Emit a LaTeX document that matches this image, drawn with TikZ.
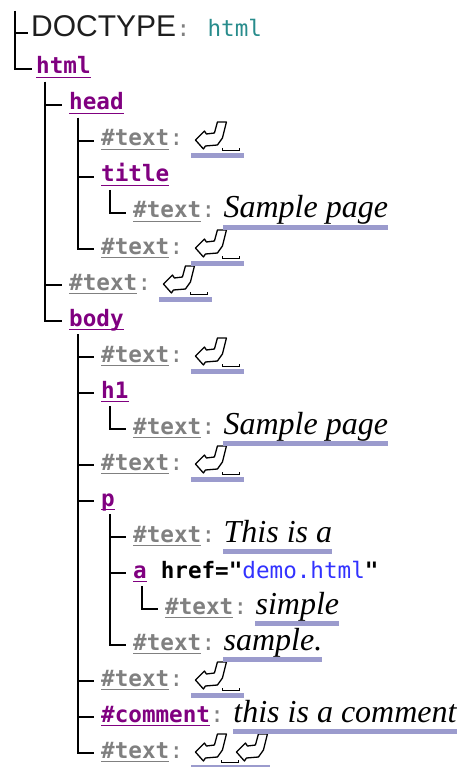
\documentclass[tikz,border=0pt]{standalone}
\usepackage{fontspec}
\usetikzlibrary{positioning}
\newfontfamily\monofont{DejaVu Sans Mono}
\newfontfamily\doctypefont{Liberation Sans}
\newfontfamily\valuefont{Liberation Serif}
\definecolor{tagpurple}{RGB}{128,0,128}
\definecolor{textgray}{RGB}{128,128,128}
\definecolor{barblue}{RGB}{155,155,205}
\definecolor{dtteal}{RGB}{40,140,140}
\definecolor{attrblue}{RGB}{50,50,255}

\tikzset{
  treeline/.style={line width=1.8pt, black},
  tagnode/.style={inner sep=0pt, anchor=base west, text=tagpurple, font=\monofont\bfseries\fontsize{22.6}{27}\selectfont},
  textnode/.style={tagnode, text=textgray},
  colonnode/.style={inner sep=0pt, anchor=base west, text=textgray, font=\monofont\fontsize{22.6}{27}\selectfont},
  valnode/.style={inner sep=0pt, anchor=base west, font=\valuefont\itshape\fontsize{32}{36}\selectfont},
  retnode/.style={inner sep=0pt, anchor=base west},
  pics/retsym/.style={code={
    \draw[line width=1.3pt, fill=white, line join=round] (1,-6) -- (10,-15) -- (12,-12) -- (20,-13) -- (23,-24) -- (32,-24) -- (28,-8) -- (23,-1) -- (11,0) -- (9,3) -- cycle;
  }},
  pics/spacesym/.style={code={
    \draw[line width=0.9pt] (0,2) -- (0,4) -- (17,4) -- (17,2);
  }},
}

\begin{document}
\begin{tikzpicture}[x=1pt, y=-1pt]
\useasboundingbox (0,0) rectangle (461,767);

%%% root
\coordinate (root) at (15,11);
\node [inner sep=0pt, anchor=base west, text={rgb,255:red,30;green,30;blue,30}, font=\doctypefont\fontsize{30}{34}\selectfont] (doctype) at (31,37) {DOCTYPE};
\node [colonnode] (doctype-c) at (doctype.base east) {:};
\node [inner sep=0pt, anchor=base west, text=dtteal, font=\monofont\fontsize{22.6}{27}\selectfont, xshift=31pt] (doctype-v) at (doctype.base east) {html};
\node [tagnode] (html) at (36,74) {html};

%%% head
\node [tagnode] (head) at (69,110) {head};
\node [textnode] (t1) at (101,146) {\#text};
\node [tagnode] (title) at (101,182) {title};
\node [textnode] (t2) at (133,218) {\#text};
\node [textnode] (t3) at (101,254) {\#text};
\node [textnode] (t4) at (69,290) {\#text};

%%% body
\node [tagnode] (body) at (69,326) {body};
\node [textnode] (t5) at (101,362) {\#text};
\node [tagnode] (h1) at (101,398) {h1};
\node [textnode] (t6) at (133,434) {\#text};
\node [textnode] (t7) at (101,470) {\#text};
\node [tagnode] (p) at (101,506) {p};
\node [textnode] (t8) at (133,542) {\#text};
\node [tagnode] (a) at (133,578) {a};
\node [inner sep=0pt, anchor=base west, font=\monofont\fontsize{22.6}{27}\selectfont, xshift=13.6pt] (a-attr) at (a.base east) {\textbf{href="}\textcolor{attrblue}{demo.html}\textbf{"}};
\node [textnode] (t9) at (165,614) {\#text};
\node [textnode] (t10) at (133,650) {\#text};
\node [textnode] (t11) at (101,686) {\#text};
\node [tagnode] (comment) at (101,722) {\#comment};
\node [textnode] (t12) at (101,758) {\#text};

%%% colons
\foreach \n in {t1,t2,t3,t4,t5,t6,t7,t8,t9,t10,t11,comment,t12}
  \node [colonnode] (\n-c) at (\n.base east) {:};

%%% values
\node [valnode, xshift=22pt] (v2) at (t2.base east) {Sample page};
\node [valnode, xshift=22pt] (v6) at (t6.base east) {Sample page};
\node [valnode, xshift=22pt] (v8) at (t8.base east) {This is a};
\node [valnode, xshift=22pt] (v9) at (t9.base east) {simple};
\node [valnode, xshift=22pt] (v10) at (t10.base east) {sample.};
\node [valnode, xshift=23pt] (v-comment) at (comment.base east) {this is a comment};
\foreach \n in {t1,t3,t4,t5,t7,t11}{
  \node [retnode, xshift=22pt] (\n-v) at (\n.base east) {\hspace*{52pt}};
  \pic at ([xshift=3pt]\n-v.base west) {retsym};
  \pic at ([xshift=31pt]\n-v.base west) {spacesym};
}
\node [retnode, xshift=22pt] (t12-v) at (t12.base east) {\hspace*{78pt}};
\pic at ([xshift=3pt]t12-v.base west) {retsym};
\pic at ([xshift=30pt]t12-v.base west) {spacesym};
\pic at ([xshift=44pt]t12-v.base west) {retsym};

%%% underlines
\foreach \n in {html,head,title,body,h1,p,a,comment}
  \draw [tagpurple, line width=1.5pt] ([yshift=-3.5pt]\n.base west) -- ([yshift=-3.5pt]\n.base east);
\foreach \n in {t1,t2,t3,t4,t5,t6,t7,t8,t9,t10,t11,t12}
  \draw [textgray, line width=1.5pt] ([yshift=-3.5pt]\n.base west) -- ([yshift=-3.5pt]\n.base east);
\foreach \n in {v2,v6,v8,v9,v10,v-comment,t1-v,t3-v,t4-v,t5-v,t7-v,t11-v,t12-v}
  \draw [barblue, line width=5.5pt] ([yshift=-9.5pt]\n.base west) -- ([yshift=-9.5pt]\n.base east);

%%% tree lines
\draw [treeline] (root) |- ([xshift=-3pt,yshift=4pt]doctype.base west);
\draw [treeline] (root) |- ([xshift=-4pt,yshift=2.5pt]html.mid west);
\foreach \up/\kid in {html/head, html/t4, html/body, head/t1, head/title, head/t3, title/t2,
  body/t5, body/h1, body/t7, body/p, body/t11, body/comment, body/t12, h1/t6, p/t8, p/a, p/t10, a/t9}
  \draw [treeline] ([xshift=9pt,yshift=-8pt]\up.base west) |- ([xshift=-7pt,yshift=2.5pt]\kid.mid west);

\end{tikzpicture}
\end{document}
